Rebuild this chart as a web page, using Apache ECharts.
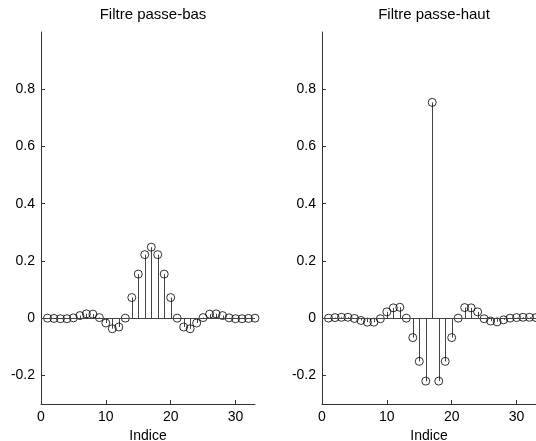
<!DOCTYPE html>
<html><head><meta charset="utf-8">
<script src="https://cdn.jsdelivr.net/npm/echarts@6/dist/echarts.min.js"></script>
<style>html,body{margin:0;padding:0;background:#fff}#c{width:536px;height:441px}</style>
</head><body><div id="c"></div>
<script>
const titles = ['Filtre passe-bas', 'Filtre passe-haut'];
const xName = 'Indice';
const indices = [1,2,3,4,5,6,7,8,9,10,11,12,13,14,15,16,17,18,19,20,21,22,23,24,25,26,27,28,29,30,31,32,33];
const lowpass = [0, -0.001, -0.002, -0.002, 0.001, 0.009, 0.015, 0.014, 0.002, -0.017, -0.037, -0.031, 0, 0.072, 0.154, 0.222, 0.248, 0.222, 0.154, 0.072, 0, -0.031, -0.037, -0.017, 0.002, 0.014, 0.015, 0.009, 0.001, -0.002, -0.002, -0.001, 0];
const highpass = [0, 0.002, 0.003, 0.003, -0.001, -0.008, -0.014, -0.014, -0.002, 0.022, 0.036, 0.038, 0, -0.068, -0.151, -0.22, 0.754, -0.22, -0.151, -0.068, 0, 0.037, 0.036, 0.022, -0.002, -0.01, -0.013, -0.006, 0, 0.002, 0.003, 0.003, 0.002];
const xTicks = [0, 10, 20, 30];
const yTicks = [-0.2, 0, 0.2, 0.4, 0.6, 0.8];
const xRange = [0, 33];
const yRange = [-0.3, 1];

const chart = echarts.init(document.getElementById('c'), null, {renderer: 'canvas'});
const font = 'Liberation Sans, Arial, Helvetica, sans-serif';
const axisColor = '#333';
const grids = [
  {left: 41, top: 32, width: 214, height: 372, outerBoundsMode: 'none', containLabel: false},
  {left: 322, top: 32, width: 214, height: 372, outerBoundsMode: 'none', containLabel: false}
];
const series = [];
const xAxes = [], yAxes = [];
const datasets = [lowpass, highpass];
grids.forEach((g, i) => {
  xAxes.push({
    type: 'value', gridIndex: i, min: xRange[0], max: xRange[1],
    name: xName, nameLocation: 'middle', nameGap: 23,
    nameTextStyle: {fontFamily: font, fontSize: 14, color: '#000'},
    axisLine: {show: true, onZero: false, lineStyle: {color: axisColor, width: 1}},
    axisTick: {show: true, inside: true, length: 4, customValues: xTicks, lineStyle: {color: axisColor}},
    axisLabel: {customValues: xTicks, fontFamily: font, fontSize: 14, color: '#000', margin: 6},
    splitLine: {show: false}
  });
  yAxes.push({
    type: 'value', gridIndex: i, min: yRange[0], max: yRange[1],
    axisLine: {show: true, onZero: false, lineStyle: {color: axisColor, width: 1}},
    axisTick: {show: true, inside: true, length: 4, customValues: yTicks, lineStyle: {color: axisColor}},
    axisLabel: {customValues: yTicks, fontFamily: font, fontSize: 14, color: '#000', margin: 6,
      formatter: v => Math.abs(v) < 1e-9 ? '0' : (+v).toFixed(1)},
    splitLine: {show: false}
  });
  const pts = indices.map((x, k) => [x, datasets[i][k]]);
  series.push({
    type: 'custom', xAxisIndex: i, yAxisIndex: i, data: pts, silent: true, z: 2,
    renderItem: (params, api) => {
      const p0 = api.coord([api.value(0), 0]);
      const p1 = api.coord([api.value(0), api.value(1)]);
      return {type: 'line', shape: {x1: Math.round(p0[0]) + 0.5, y1: p0[1], x2: Math.round(p1[0]) + 0.5, y2: p1[1]},
        style: {stroke: '#444', lineWidth: 1}};
    }
  });
  series.push({
    type: 'scatter', xAxisIndex: i, yAxisIndex: i, data: pts, z: 3, clip: false,
    symbol: 'circle', symbolSize: 8,
    itemStyle: {color: 'rgba(255,255,255,0)', borderColor: '#000', borderWidth: 1},
    silent: true,
    markLine: {silent: true, symbol: 'none', label: {show: false},
      lineStyle: {color: '#444', type: 'solid', width: 1},
      data: [{yAxis: 0}]}
  });
});
chart.setOption({
  animation: false,
  backgroundColor: '#fff',
  title: titles.map((t, i) => ({
    text: t, left: grids[i].left + grids[i].width / 2, top: 2, textAlign: 'center',
    textStyle: {fontFamily: font, fontSize: 15, fontWeight: 'normal', color: '#000'}
  })),
  grid: grids,
  xAxis: xAxes,
  yAxis: yAxes,
  series: series
});
</script></body></html>
